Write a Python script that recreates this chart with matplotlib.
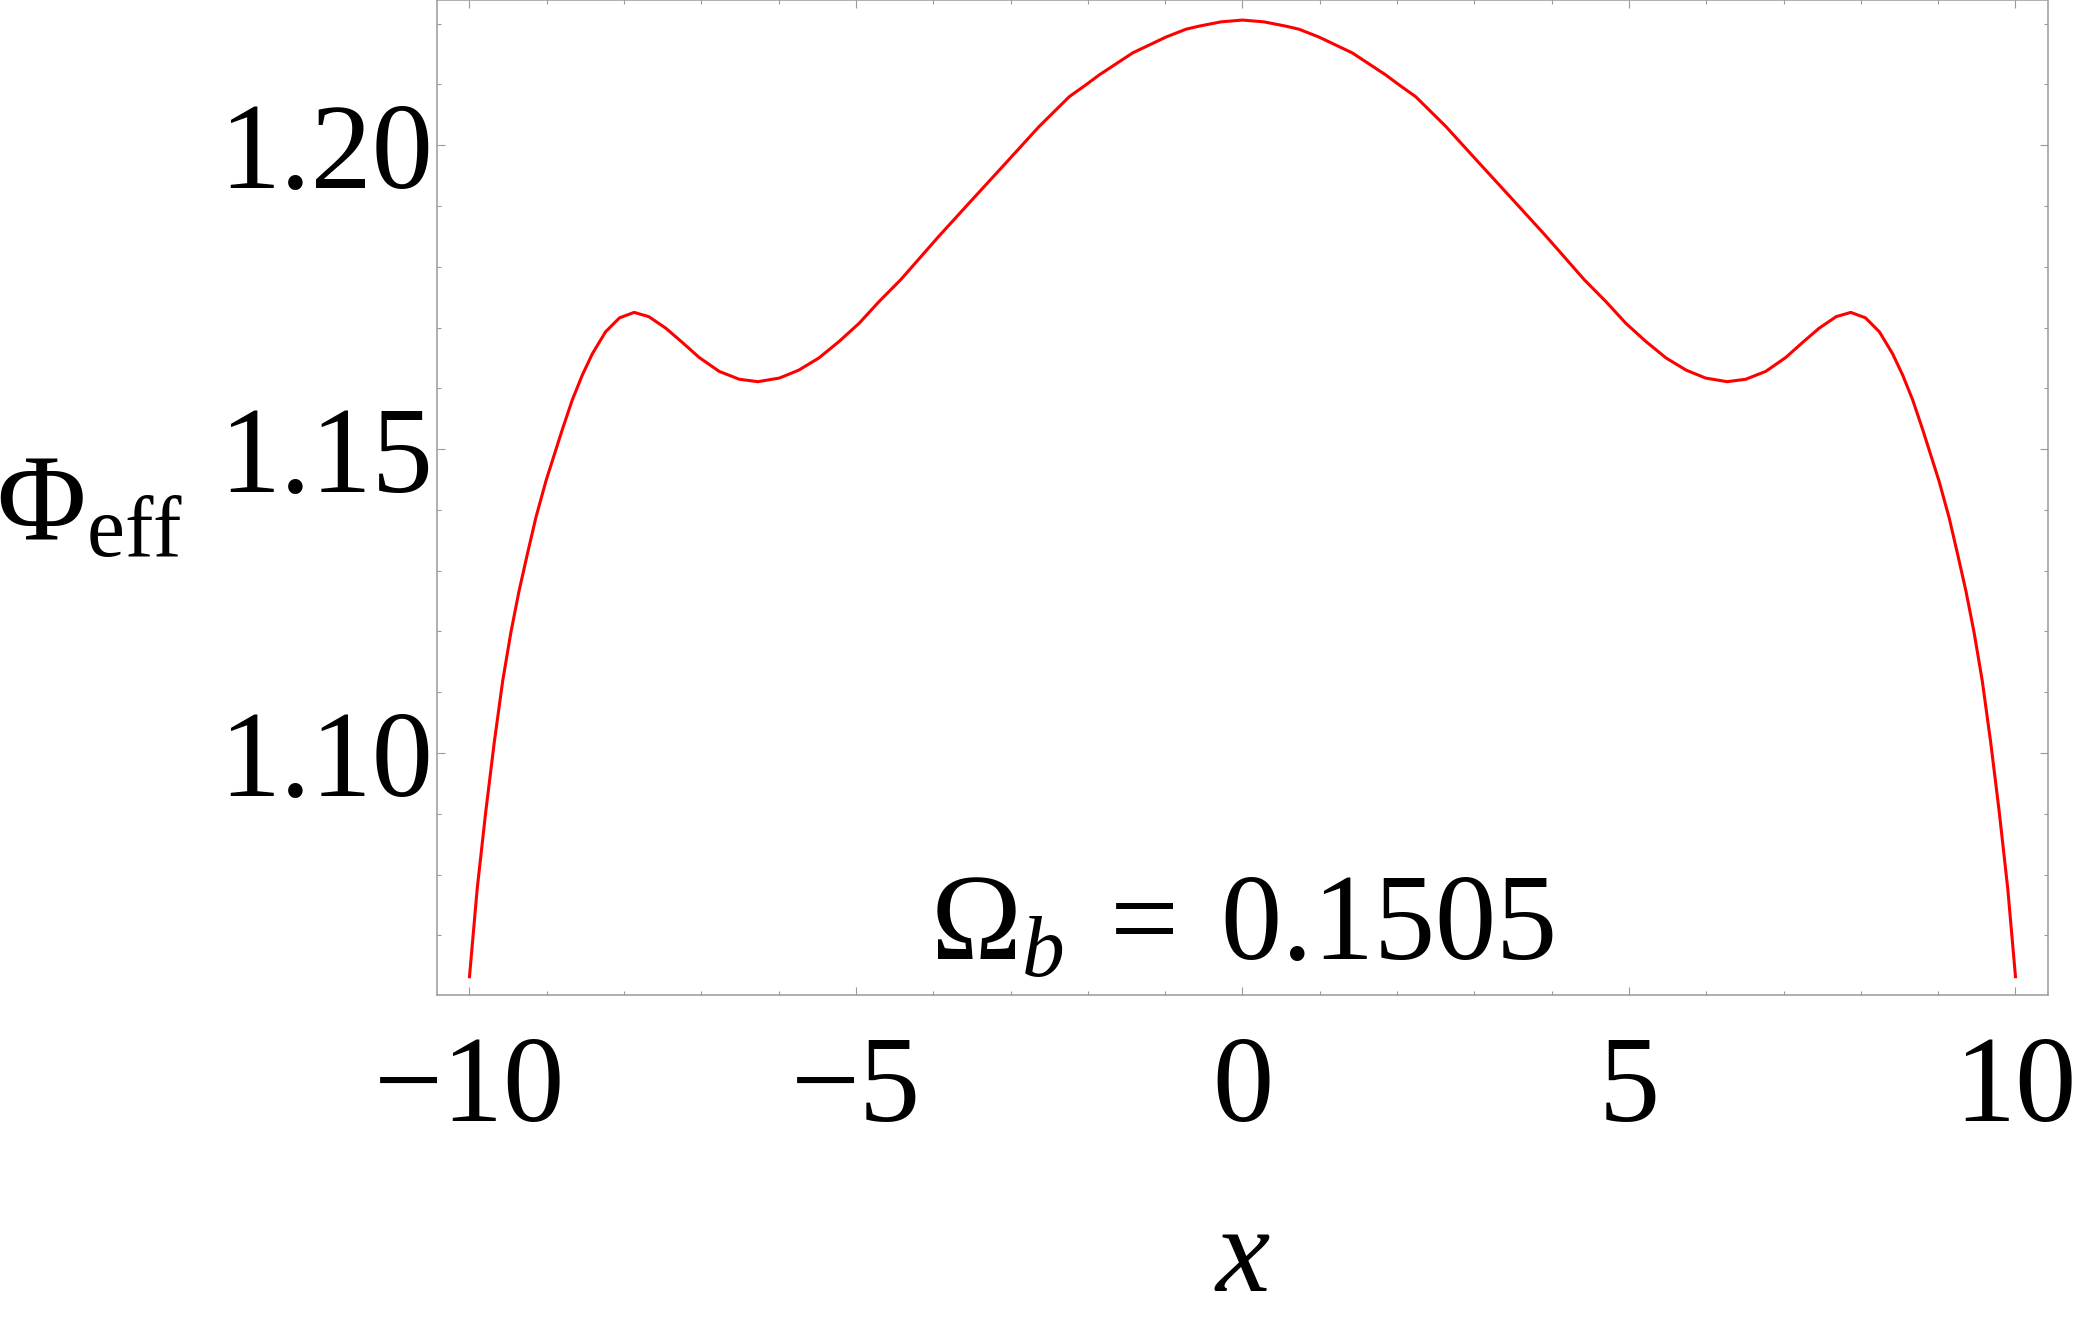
import matplotlib
matplotlib.use("Agg")
import matplotlib.pyplot as plt
from matplotlib.ticker import MultipleLocator, FormatStrFormatter

# Phi_eff(x), left to right
x_vals = [-10.0, -9.90, -9.79, -9.68, -9.57, -9.465, -9.36, -9.25, -9.14, -9.01,
          -8.88, -8.80, -8.67, -8.54, -8.41, -8.24, -8.06, -7.87, -7.68, -7.46,
          -7.25, -7.03, -6.77, -6.51, -6.27, -5.99, -5.74, -5.48, -5.22, -4.96,
          -4.70, -4.42, -3.93, -3.50, -3.06, -2.63, -2.24, -2.03, -1.85, -1.42,
          -0.99, -0.73, -0.56, -0.28, 0.0, 0.28, 0.56, 0.73,
          0.99, 1.42, 1.85, 2.03, 2.24, 2.63, 3.06, 3.50, 3.93, 4.42,
          4.70, 4.96, 5.22, 5.48, 5.74, 5.99, 6.27, 6.51, 6.77, 7.03,
          7.25, 7.46, 7.68, 7.87, 8.06, 8.24, 8.41, 8.54, 8.67, 8.80,
          8.88, 9.01, 9.14, 9.25, 9.36, 9.465, 9.57, 9.68, 9.79, 9.90, 10.0]
phi_eff = [1.0632, 1.0777, 1.0903, 1.1017, 1.1119, 1.1198, 1.1266, 1.1328, 1.1388, 1.1448,
           1.1500, 1.1532, 1.1581, 1.1622, 1.1657, 1.1693, 1.1716, 1.1725, 1.1718, 1.1699,
           1.1676, 1.1651, 1.1628, 1.1615, 1.1611, 1.1617, 1.1630, 1.1650, 1.1677, 1.1707,
           1.1743, 1.1779, 1.1850, 1.1910, 1.1971, 1.2031, 1.2080, 1.2099, 1.2116, 1.2152,
           1.2178, 1.2191, 1.2196, 1.2203, 1.2206, 1.2203, 1.2196, 1.2191,
           1.2178, 1.2152, 1.2116, 1.2099, 1.2080, 1.2031, 1.1971, 1.1910, 1.1850, 1.1779,
           1.1743, 1.1707, 1.1677, 1.1650, 1.1630, 1.1617, 1.1611, 1.1615, 1.1628, 1.1651,
           1.1676, 1.1699, 1.1718, 1.1725, 1.1716, 1.1693, 1.1657, 1.1622, 1.1581, 1.1532,
           1.1500, 1.1448, 1.1388, 1.1328, 1.1266, 1.1198, 1.1119, 1.1017, 1.0903, 1.0777, 1.0632]

x_ticks = [-10, -5, 0, 5, 10]
y_ticks = [1.10, 1.15, 1.20]
omega_b = "0.1505"

plt.rcParams["font.family"] = ["Liberation Serif", "DejaVu Serif"]
plt.rcParams["mathtext.fontset"] = "custom"
plt.rcParams["mathtext.rm"] = "Liberation Serif"
plt.rcParams["mathtext.it"] = "Liberation Serif:italic"

FS = 88
FRAME = "#9a9a9a"

fig = plt.figure(figsize=(20.84, 13.28), dpi=100)
ax = fig.add_axes([0.2097, 0.2508, 0.7730, 0.7492])

ax.plot(x_vals, phi_eff, color="#ff0000", lw=2.2, solid_joinstyle="round")

ax.set_xlim(-10.42, 10.42)
ax.set_ylim(1.0602, 1.2239)
ax.set_xticks(x_ticks)
ax.set_yticks(y_ticks)
ax.xaxis.set_minor_locator(MultipleLocator(1))
ax.yaxis.set_minor_locator(MultipleLocator(0.01))
ax.yaxis.set_major_formatter(FormatStrFormatter("%.2f"))

for s in ax.spines.values():
    s.set_color(FRAME)
    s.set_linewidth(1.1)
ax.tick_params(which="both", direction="in", top=True, right=True,
               color=FRAME, width=0.8, labelsize=FS, labelcolor="black")
ax.tick_params(which="major", length=5.5)
ax.tick_params(which="minor", length=3)
ax.tick_params(axis="x", which="major", pad=29)
ax.tick_params(axis="y", which="major", pad=3)

ax.set_xlabel(r"$x$", fontsize=FS, va="baseline")
ax.xaxis.set_label_coords(0.5, -0.2975)
ax.set_ylabel(r"$\Phi_{\mathrm{eff}}$", fontsize=FS, rotation=0, ha="center", va="baseline")
ax.yaxis.set_label_coords(-0.2154, 0.457)

# annotation sits inside the frame, centred on x = 0
ax.text(0, 1.066, r"$\Omega_b\;=\;%s$" % omega_b, fontsize=FS, ha="center", va="baseline")

fig.savefig("out.png", dpi=100)
